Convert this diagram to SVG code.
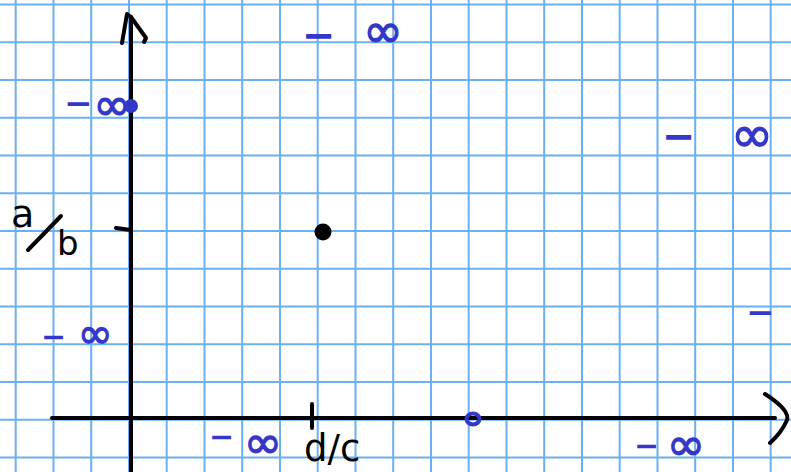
<svg xmlns="http://www.w3.org/2000/svg" width="791" height="472" viewBox="0 0 791 472">
<style>
.grid line{stroke:#6ab0f3;stroke-width:2}
.ax{stroke:#000;stroke-width:4;fill:none;stroke-linecap:round;stroke-linejoin:round}
.inf{font-family:"DejaVu Sans",sans-serif;fill:#3437c8;font-weight:bold}
.oo{font-family:"DejaVu Sans",sans-serif;fill:#3437c8;stroke:#3437c8;stroke-width:1.2;text-anchor:middle}
.blk{font-family:"DejaVu Sans",sans-serif;fill:#000}
</style>
<rect width="791" height="472" fill="#fff"/>
<g class="grid" id="grid">
<line x1="15.7" y1="0" x2="15.7" y2="472"/><line x1="53.5" y1="0" x2="53.5" y2="472"/><line x1="91.2" y1="0" x2="91.2" y2="472"/><line x1="129" y1="0" x2="129" y2="472"/><line x1="166.7" y1="0" x2="166.7" y2="472"/><line x1="204.5" y1="0" x2="204.5" y2="472"/><line x1="242.2" y1="0" x2="242.2" y2="472"/><line x1="280" y1="0" x2="280" y2="472"/><line x1="317.7" y1="0" x2="317.7" y2="472"/><line x1="355.5" y1="0" x2="355.5" y2="472"/><line x1="393.2" y1="0" x2="393.2" y2="472"/><line x1="431" y1="0" x2="431" y2="472"/><line x1="468.7" y1="0" x2="468.7" y2="472"/><line x1="506.5" y1="0" x2="506.5" y2="472"/><line x1="544.2" y1="0" x2="544.2" y2="472"/><line x1="582" y1="0" x2="582" y2="472"/><line x1="619.7" y1="0" x2="619.7" y2="472"/><line x1="657.5" y1="0" x2="657.5" y2="472"/><line x1="695.2" y1="0" x2="695.2" y2="472"/><line x1="733" y1="0" x2="733" y2="472"/><line x1="770.7" y1="0" x2="770.7" y2="472"/>
<line x1="0" y1="4.6" x2="791" y2="4.6"/><line x1="0" y1="42.3" x2="791" y2="42.3"/><line x1="0" y1="80.1" x2="791" y2="80.1"/><line x1="0" y1="117.8" x2="791" y2="117.8"/><line x1="0" y1="155.6" x2="791" y2="155.6"/><line x1="0" y1="193.3" x2="791" y2="193.3"/><line x1="0" y1="231.1" x2="791" y2="231.1"/><line x1="0" y1="268.8" x2="791" y2="268.8"/><line x1="0" y1="306.6" x2="791" y2="306.6"/><line x1="0" y1="344.3" x2="791" y2="344.3"/><line x1="0" y1="382.1" x2="791" y2="382.1"/><line x1="0" y1="419.8" x2="791" y2="419.8"/><line x1="0" y1="457.6" x2="791" y2="457.6"/>
</g>
<g id="axes">
<path class="ax" d="M131,472 L131,17"/>
<path class="ax" d="M122,43 L127,14 L131,17 L146,38 L144,42"/>
<path class="ax" d="M52,418 L775,418"/>
<path class="ax" d="M765,394 Q790,410 787,420 Q782,432 770,443"/>
<path class="ax" d="M312,404 L312,428"/>
<path class="ax" d="M116,228 L131,230" stroke-width="5"/>
</g>
<g id="labels">
<text class="blk" font-size="38"><tspan x="11" y="227">a</tspan></text>
<path class="ax" d="M28,250 L61,216"/>
<text class="blk" font-size="34"><tspan x="57" y="255">b</tspan></text>
<text class="blk" font-size="37" x="304" y="461">d/c</text>
</g>
<g id="points">
<circle cx="323" cy="232" r="8.5" fill="#000"/>
<circle cx="131" cy="106" r="7" fill="#3437c8"/>
<ellipse cx="473" cy="419" rx="6.5" ry="5.5" fill="none" stroke="#3437c8" stroke-width="4"/>
</g>
<g id="infinities">
<text class="inf" font-size="34" x="64" y="115">−</text>
<text class="oo" font-size="45" x="112" y="120">∞</text>
<text class="inf" font-size="40" x="302" y="49">−</text>
<text class="oo" font-size="48" x="383" y="47">∞</text>
<text class="inf" font-size="40" x="662" y="150">−</text>
<text class="oo" font-size="51" x="752" y="152">∞</text>
<text class="inf" font-size="30" x="41" y="347">−</text>
<text class="oo" font-size="42" x="95" y="348">∞</text>
<text class="inf" font-size="30" x="209" y="447">−</text>
<text class="oo" font-size="46" x="263" y="458">∞</text>
<text class="inf" font-size="30" x="634" y="456">−</text>
<text class="oo" font-size="46" x="686" y="460">∞</text>
<text class="inf" font-size="34" x="746" y="324">−</text>
</g>
</svg>
